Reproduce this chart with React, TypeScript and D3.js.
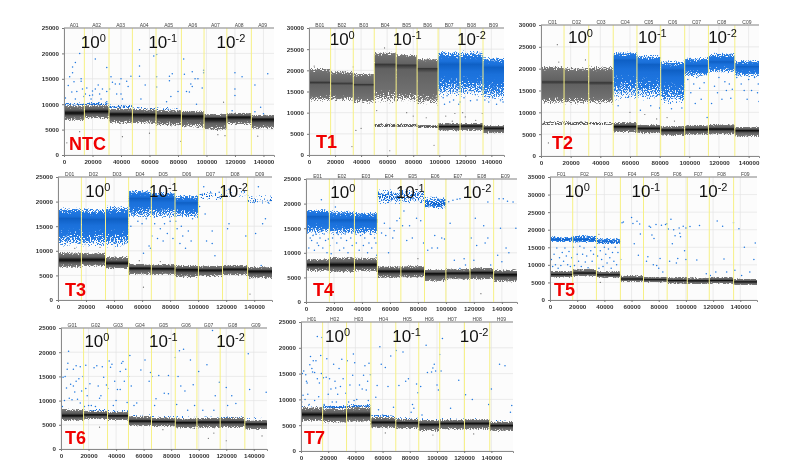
import { useEffect, useRef } from 'react'
import * as d3 from 'd3'

type Band = [number, number, number, number] | null
type Pt = [number, number]

const exponents = ['0', '-1', '-2']

// well boundaries (droplet event number)
const ntcEdges = [14300, 31600, 48000, 64600, 82400, 98300, 114300, 131500]
const t1Edges = [16600, 34000, 50100, 66900, 83000, 99100, 116000, 133600]
const t2Edges = [15550, 32200, 48700, 64700, 80700, 96900, 112900, 130700]
const t3Edges = [16700, 33900, 50400, 66600, 83500, 100200, 117400, 135300]
const t4Edges = [16700, 34600, 51000, 67800, 84700, 100000, 117200, 134100]
const t5Edges = [16700, 34150, 51800, 68800, 86200, 101000, 117200, 135100]
const t6Edges = [16400, 33800, 49000, 65700, 83000, 98700, 115600, 133500]
const t7Edges = [15900, 33500, 51400, 69700, 86600, 102000, 120200, 138800]

// negative cluster per well: low, centre, high, density
const ntcNeg: Band[] = [[6600, 8300, 10000, 1], [7000, 8600, 10000, 1], [6000, 8100, 9300, 1], [6000, 8000, 9200, 1], [5500, 7800, 9000, 1], [5200, 7700, 8800, 1], [4600, 7200, 8200, 1], [5800, 7500, 8400, 1], [5000, 7100, 8000, 1]]
const t1Neg: Band[] = [null, null, null, [6500, 7000, 7500, 0.6], [6500, 7000, 7500, 0.6], [6300, 6700, 7200, 0.6], [5500, 6800, 7600, 1], [5600, 6900, 7600, 1], [5000, 6400, 7100, 1]]
const t2Neg: Band[] = [[7000, 7500, 8000, 0.55], [7000, 7500, 8000, 0.55], [7000, 7400, 7900, 0.5], [5200, 6800, 7800, 1], [5000, 6400, 7300, 1], [4500, 6000, 7000, 1], [4700, 6100, 7200, 1], [4800, 6200, 7400, 1], [4300, 5900, 6800, 1]]
const t3Neg: Band[] = [[6450, 8150, 9850, 1], [6700, 8200, 9800, 1], [6200, 7500, 9000, 1], [5000, 6500, 7500, 1], [5000, 6400, 7400, 1], [4400, 6200, 7200, 1], [4600, 6100, 7100, 1], [4900, 6300, 7200, 1], [4200, 5900, 6900, 1]]
const t4Neg: Band[] = [[6100, 7600, 8900, 1], [5800, 7600, 9300, 1], [6100, 7600, 9100, 1], [4700, 6300, 7400, 1], [4800, 6300, 7500, 1], [4000, 5800, 6800, 1], [4400, 5900, 6900, 1], [4400, 6000, 7100, 1], [3900, 5600, 6700, 1]]
const t5Neg: Band[] = [[6300, 7250, 8400, 1], [6600, 7700, 9000, 1], [6200, 7200, 8300, 1], [5100, 6000, 7100, 1], [4900, 5800, 6700, 1], [4500, 5600, 6600, 1], [4400, 5500, 6500, 1], [4500, 5600, 6700, 1], [4100, 5200, 6200, 1]]
const t6Neg: Band[] = [[5700, 6900, 8400, 1], [6000, 7100, 8000, 1], [5800, 6900, 7800, 1], [4600, 5800, 6900, 1], [4500, 5700, 6600, 1], [4100, 5500, 6500, 1], [4200, 5600, 6600, 1], [4300, 5600, 6600, 1], [3900, 5200, 6100, 1]]
const t7Neg: Band[] = [[5600, 7100, 8700, 1], [5300, 6900, 8500, 1], [5500, 7000, 8800, 1], [4300, 5600, 6700, 1], [4200, 5500, 6300, 1], [3700, 5200, 6100, 1], [4000, 5400, 6200, 1], [4000, 5400, 6300, 1], [3700, 5000, 5800, 1]]

// positive cluster per well
const ntcPos: Band[] = [[9500, 9900, 10400, 0.5], [9600, 10000, 10500, 0.6], [9000, 9500, 10000, 0.5], [8800, 9200, 9600, 0.3], [8800, 9100, 9500, 0.3], null, null, null, null]
const t1Pos: Band[] = [[12500, 17200, 20800, 1], [12500, 17000, 20000, 1], [12000, 16700, 19500, 1], [12000, 21500, 24500, 1], [12000, 21300, 24000, 1], [11500, 20500, 23000, 1], [13500, 21500, 24800, 1], [13500, 21500, 24800, 1], [12500, 20800, 23300, 1]]
const t2Pos: Band[] = [[11700, 17000, 20900, 1], [11700, 17000, 20500, 1], [11700, 16800, 20800, 1], [12500, 22000, 24000, 1], [12500, 21000, 23300, 1], [11500, 19700, 22000, 1], [18000, 20700, 22800, 1], [18800, 21600, 23800, 1], [18000, 20500, 22100, 1]]
const t3Pos: Band[] = [[10500, 16600, 18900, 1], [10500, 16400, 18800, 1], [10500, 16500, 19300, 1], [16500, 20700, 22400, 1], [16500, 20700, 22000, 1], [16500, 19800, 21400, 1], [20000, 21000, 22300, 0.3], [20800, 21700, 22500, 0.18], [19500, 20400, 21400, 0.3]]
const t4Pos: Band[] = [[13500, 17400, 18900, 1], [13500, 16700, 18700, 1], [13500, 16700, 18400, 1], [19800, 21500, 23000, 0.5], [19800, 21500, 23000, 0.45], [18800, 20000, 21500, 0.65], null, null, null]
const t5Pos: Band[] = [[16400, 17200, 18200, 0.8], [16200, 17200, 18600, 0.8], [15800, 16500, 17800, 0.75], null, null, null, null, null, null]
const t6Pos: Band[] = [[7800, 8100, 8400, 0.25], [7700, 8000, 8300, 0.45], [7500, 7800, 8100, 0.35], [6500, 6900, 7200, 0.3], [6300, 6600, 6900, 0.25], [6300, 6600, 6900, 0.2], [6300, 6600, 6800, 0.25], [6300, 6600, 6800, 0.5], [6200, 6400, 6600, 0.2]]
const t7Pos: Band[] = [[8400, 8700, 9000, 0.25], [8100, 8500, 8900, 0.7], [8200, 8700, 9100, 0.6], [6500, 6800, 7100, 0.45], [6000, 6300, 6600, 0.25], [5900, 6200, 6400, 0.25], [5900, 6200, 6400, 0.3], [5900, 6200, 6400, 0.35], [5700, 5900, 6100, 0.2]]

// which wells show the positive cluster in blue (gray = not thresholded)
const t1PosBlue = [false, false, false, false, false, false, true, true, true]
const t2PosBlue = [false, false, false, true, true, true, true, true, true]
const allBlue = [true, true, true, true, true, true, true, true, true]

// stray droplets
const ntcBlue: Pt[] = [[1000, 11200], [3000, 13700], [4000, 15400], [5500, 12400], [6000, 16200], [6000, 17300], [7000, 14400], [8000, 18200], [8000, 11000], [9000, 12500], [11000, 20000], [12000, 15000], [12000, 14500], [13000, 13000], [14000, 11500], [15000, 12000], [16000, 13200], [18000, 11700], [19000, 11000], [20000, 11800], [20000, 12600], [22000, 18900], [22000, 13000], [24000, 13800], [25000, 12000], [26000, 11000], [27000, 13000], [30000, 17200], [30000, 12500], [30000, 10500], [32000, 13000], [33000, 15400], [34000, 14300], [36000, 14000], [37000, 12000], [39000, 14000], [40000, 15000], [40000, 12000], [41000, 11000], [44000, 14500], [45000, 13500], [47000, 15500], [53000, 20700], [53000, 17500], [53000, 15500], [54000, 11000], [57000, 13800], [63000, 19500], [65000, 19800], [65000, 15400], [65000, 13400], [72000, 10500], [74000, 15500], [74000, 14600], [76000, 16000], [75000, 11500], [80000, 12500], [84000, 18900], [84500, 15900], [86000, 12500], [88000, 12400], [89000, 14000], [90000, 16400], [90000, 13500], [92000, 15000], [93000, 10000], [94000, 15000], [97000, 13200], [98000, 16700], [98000, 16200], [120000, 16200], [120000, 11700], [120000, 13000], [125000, 15400], [134000, 13800], [138000, 9400], [143000, 16000], [118000, 8700], [134000, 8500], [140000, 8100]]
const ntcGray: Pt[] = [[11000, 4600], [2000, 2400], [41000, 3600], [60000, 4300], [82000, 2700], [112000, 10400], [113000, 3800], [108000, 4000], [136000, 3700]]
const t1Blue: Pt[] = [[101000, 15000], [103000, 13500], [104000, 12000], [106000, 14000], [108000, 12500], [111000, 13000], [115000, 12000], [116000, 12500], [119000, 13500], [124000, 12800], [129000, 13000], [135000, 13000], [138000, 12500], [141000, 13500], [144000, 12000], [147000, 13000], [149000, 12500]]
const t1Gray: Pt[] = [[33000, 2000], [36000, 5800], [40000, 6300], [62000, 1000], [96000, 2300], [4000, 21000], [34000, 20800], [58000, 25300], [105000, 9200], [112000, 9800], [118000, 10000], [120000, 9000], [133000, 9800], [128000, 8200], [110000, 8000], [75000, 10000], [52000, 10500], [80000, 9200], [90000, 8800]]
const t2Blue: Pt[] = [[52000, 11500], [67000, 10500], [74000, 11500], [80000, 11000], [88000, 10800], [95000, 11000], [99000, 17500], [101000, 14500], [103000, 16500], [104000, 12000], [105000, 18000], [107000, 15500], [108000, 13000], [110000, 16800], [112000, 8800], [115000, 12000], [117000, 16000], [119000, 14500], [120000, 18000], [122000, 13000], [124000, 17000], [125000, 15000], [127000, 16500], [128000, 13200], [129000, 15300], [132000, 18000], [135000, 16500], [137000, 15000], [139000, 13000], [140000, 17500], [142000, 15000], [144000, 18000], [146000, 14500], [146500, 16500], [147000, 12500]]
const t2Gray: Pt[] = [[11000, 25500], [5000, 3000], [60000, 10000], [85000, 8800], [70000, 9500], [78000, 8500], [90000, 8000], [30000, 22000], [12000, 21500]]
const t3Blue: Pt[] = [[52000, 15000], [57000, 16000], [60000, 15500], [61000, 9500], [63000, 16500], [65000, 11000], [66000, 10500], [67000, 13000], [69000, 15500], [71000, 12500], [73000, 14500], [75000, 12000], [76000, 15500], [78000, 13500], [80000, 16000], [82000, 12500], [84000, 16000], [85000, 14500], [87000, 11500], [88000, 15000], [89000, 13000], [91000, 10500], [93000, 14000], [95000, 12000], [96000, 16500], [105000, 17500], [106000, 12000], [110000, 11500], [110000, 14000], [112000, 9000], [121000, 14500], [122000, 15500], [134000, 13000], [141000, 13500], [146000, 15500], [148000, 16500], [145000, 7000], [101000, 19000], [103000, 21500], [104000, 23000], [109000, 21800], [115000, 21900], [122000, 22500], [133000, 22000], [143000, 23000], [140000, 19800], [150000, 19800]]
const t3Gray: Pt[] = [[61000, 2600], [137000, 1200], [12000, 10500], [30000, 10700], [58000, 8000], [73000, 7800]]
const t4Blue: Pt[] = [[1000, 14000], [2000, 11000], [3000, 13000], [4000, 12500], [5000, 13500], [6000, 10500], [7000, 13800], [8000, 12000], [9000, 11500], [10000, 13000], [11000, 20800], [12000, 11000], [13000, 13800], [14000, 12500], [15000, 10000], [16000, 12800], [17000, 11500], [18000, 9800], [19000, 13000], [21000, 19300], [22000, 12000], [23000, 13700], [24000, 10500], [25000, 13000], [27000, 11000], [28000, 13800], [29000, 12500], [30000, 10000], [32000, 13000], [33000, 11500], [35000, 13800], [36000, 12000], [38000, 10500], [39000, 13500], [41000, 11500], [42000, 13000], [44000, 10000], [45000, 12000], [46000, 13800], [47000, 11000], [49000, 13000], [50000, 12000], [50500, 9500], [54000, 14000], [56000, 16000], [57000, 13500], [59000, 10000], [60000, 15000], [62000, 13000], [63000, 14500], [65000, 16500], [67000, 17000], [69000, 15500], [70000, 18500], [72000, 12500], [74000, 15500], [76000, 13000], [79000, 17000], [82000, 16500], [84000, 12000], [87000, 10500], [90000, 11000], [92000, 13500], [94000, 11000], [97000, 13000], [99000, 12800], [103000, 16000], [108000, 20900], [110000, 21000], [106000, 8500], [110000, 6800], [113000, 8800], [114000, 7500], [118000, 13000], [120000, 8500], [121000, 17000], [122000, 11500], [127000, 15500], [128000, 12000], [130000, 13000], [132000, 7500], [137000, 9500], [138000, 21000], [140000, 8200], [139000, 15000], [141000, 21000], [143000, 11000], [144000, 20500], [145000, 10000], [148000, 20300], [150000, 15000], [102000, 20400], [105000, 20700], [130000, 20300]]
const t4Gray: Pt[] = [[125000, 1700], [80000, 8800], [50000, 9000]]
const t5Blue: Pt[] = [[1000, 11500], [2000, 9500], [3000, 13000], [4000, 10000], [5000, 14800], [6000, 9000], [7000, 12000], [8000, 9800], [9000, 13500], [10000, 11000], [11000, 14800], [12000, 12500], [13000, 10000], [14000, 13800], [15000, 9500], [16000, 12000], [17000, 15000], [18000, 9800], [20000, 13000], [21000, 11000], [22000, 15300], [23000, 9500], [24000, 13000], [25000, 14800], [26000, 10800], [27000, 12500], [28000, 9200], [30000, 14000], [31000, 11000], [32000, 13000], [33000, 15000], [35000, 12500], [36000, 9000], [37000, 14000], [38000, 11500], [39000, 9500], [40000, 15000], [41000, 13000], [42000, 10500], [43000, 14500], [44000, 12000], [45000, 9000], [46000, 13500], [47000, 11000], [48000, 15000], [49000, 10000], [50000, 13500], [52000, 11500], [53000, 22000], [54000, 22200], [60000, 23500], [61000, 21800], [62000, 16000], [64000, 22400], [65000, 12700], [66000, 21600], [66500, 18800], [71000, 11000], [72000, 12300], [73000, 21000], [74000, 20700], [75000, 18500], [76000, 10000], [76500, 17500], [78000, 21500], [78500, 9800], [80000, 9000], [81000, 11800], [82000, 21300], [83000, 8000], [85000, 21500], [86000, 21700], [87000, 20200], [88000, 11000], [89000, 23000], [90000, 16000], [91000, 20000], [92000, 18300], [93000, 10500], [94000, 11800], [95000, 20500], [95500, 19000], [96000, 18000], [98000, 21000], [99000, 14000], [100000, 11500], [100000, 20500], [103000, 20900], [108000, 11400], [110000, 21200], [115000, 7500], [118000, 7000], [122000, 8000], [123000, 22500], [128000, 11700], [127000, 21000], [130000, 8000], [135000, 22000], [136000, 8500], [139000, 20300], [141000, 7000], [143000, 15000], [147000, 8000], [150000, 11500], [151000, 16200]]
const t5Gray: Pt[] = [[37000, 5000], [36000, 18700]]
const t6Blue: Pt[] = [[1000, 8800], [1500, 14800], [2500, 10000], [3000, 15000], [4000, 12600], [4500, 16500], [5000, 17700], [5500, 20200], [6000, 10500], [7000, 13400], [8000, 10200], [9000, 13000], [9000, 16500], [10000, 11800], [11000, 17200], [11000, 14000], [12000, 10300], [13000, 14500], [14000, 17000], [14000, 9500], [15000, 12000], [16000, 15000], [17000, 8800], [18000, 17300], [18000, 12500], [19000, 11000], [20000, 9000], [21000, 13500], [22000, 9000], [24000, 16800], [25000, 8800], [26000, 17200], [27000, 13000], [28000, 10500], [29000, 11000], [30000, 17000], [31000, 14800], [33000, 13200], [34000, 12500], [35000, 18200], [36000, 16900], [37000, 17500], [38000, 9000], [39000, 14000], [40000, 10000], [41000, 12300], [43000, 16000], [43000, 12300], [44000, 17700], [45000, 18100], [46000, 14000], [47000, 16500], [48000, 9600], [49000, 15000], [50000, 19300], [51000, 13000], [53000, 9000], [55000, 9500], [58000, 16300], [61000, 18400], [64000, 14000], [65000, 15800], [66000, 15000], [68000, 9000], [69000, 10400], [71000, 15200], [75000, 11500], [78000, 11400], [78000, 15200], [83000, 18900], [84000, 9200], [85000, 15000], [86000, 20300], [87000, 13000], [89000, 20600], [90000, 12000], [92000, 8000], [94000, 18400], [96000, 13300], [97000, 9000], [100000, 16000], [103000, 8000], [106000, 17400], [110000, 24500], [111000, 8000], [112000, 11000], [115000, 13800], [120000, 12700], [121000, 9000], [124000, 11000], [127000, 9400], [136000, 19700], [137000, 12300], [149000, 11700]]
const t6Gray: Pt[] = [[107000, 2200], [120000, 1700], [146000, 2700], [28000, 4500], [111000, 3300], [74000, 4000]]
const t7Blue: Pt[] = [[500, 9500], [1000, 15000], [1500, 10800], [2000, 15500], [3000, 10000], [3500, 14800], [4000, 13500], [4500, 13200], [5000, 11000], [6000, 9000], [6500, 16700], [7000, 18300], [8000, 16000], [8500, 15300], [9000, 17500], [10000, 15200], [10000, 9800], [11000, 17500], [12000, 22200], [12000, 14000], [13000, 10500], [13500, 13200], [14500, 18500], [15000, 15000], [15500, 22000], [16500, 14200], [17000, 9000], [18500, 14300], [19000, 17900], [20000, 11000], [21000, 14000], [22000, 12000], [23000, 9500], [24000, 16800], [25000, 13500], [25500, 12200], [26000, 9500], [27000, 11000], [28000, 16000], [29000, 12500], [30000, 17800], [31000, 14000], [33000, 11200], [34000, 17500], [35000, 9500], [36000, 12800], [38000, 14700], [38500, 18800], [39000, 9800], [39500, 17100], [41000, 10000], [43000, 12800], [45000, 12000], [46000, 14700], [47000, 16500], [48000, 11800], [49000, 13500], [49500, 9800], [50000, 17000], [51000, 14800], [55000, 10400], [56000, 12700], [57000, 8000], [58000, 20200], [59000, 16800], [60000, 7000], [62000, 16200], [64000, 12500], [66000, 18400], [68000, 8500], [70000, 19500], [72000, 12700], [75000, 19200], [77000, 13500], [79000, 14000], [81000, 7500], [82000, 9000], [83000, 8300], [85000, 13000], [86000, 11300], [88000, 12500], [89000, 7000], [92000, 20500], [93000, 15200], [96000, 15300], [97000, 16100], [98000, 16800], [99000, 15500], [100000, 12800], [101000, 11800], [102000, 18700], [103000, 15500], [104000, 21800], [110000, 8300], [116000, 13700], [121000, 10900], [126000, 10000], [138000, 9000], [140000, 12000], [146000, 16800], [150000, 16500], [154000, 7500], [155000, 8800]]
const t7Gray: Pt[] = [[127000, 3300], [97000, 3100], [62000, 3500]]

const yTicks25 = [0, 5000, 10000, 15000, 20000, 25000]
const yTicks30 = [...yTicks25, 30000]
const yTicks35 = [...yTicks30, 35000]
const xTicks = [0, 20000, 40000, 60000, 80000, 100000, 120000, 140000]

// placement on the page, kept apart from the values above
const panels = [
  { name: 'NTC', row: 'A', left: 64, right: 274, top: 28, bottom: 155, xMax: 147400, yMax: 25000, yTicks: yTicks25, edges: ntcEdges, neg: ntcNeg, pos: ntcPos, posBlue: allBlue, blue: ntcBlue, gray: ntcGray, titleX: [20600, 69300, 117200], titleDy: 20, nameX: 69, nameY: 150 },
  { name: 'T1', row: 'B', left: 309, right: 504, top: 28, bottom: 155, xMax: 149700, yMax: 30000, yTicks: yTicks30, edges: t1Edges, neg: t1Neg, pos: t1Pos, posBlue: t1PosBlue, blue: t1Blue, gray: t1Gray, titleX: [25500, 75400, 124700], titleDy: 17, nameX: 316, nameY: 148 },
  { name: 'T2', row: 'C', left: 541, right: 759, top: 25, bottom: 156, xMax: 147000, yMax: 30000, yTicks: yTicks30, edges: t2Edges, neg: t2Neg, pos: t2Pos, posBlue: t2PosBlue, blue: t2Blue, gray: t2Gray, titleX: [26600, 75100, 122400], titleDy: 18, nameX: 552, nameY: 149 },
  { name: 'T3', row: 'D', left: 58, right: 272, top: 177, bottom: 300, xMax: 152700, yMax: 25000, yTicks: yTicks25, edges: t3Edges, neg: t3Neg, pos: t3Pos, posBlue: allBlue, blue: t3Blue, gray: t3Gray, titleX: [28400, 75200, 125300], titleDy: 20, nameX: 65, nameY: 296 },
  { name: 'T4', row: 'E', left: 306, right: 517, top: 179, bottom: 302, xMax: 150800, yMax: 25000, yTicks: yTicks25, edges: t4Edges, neg: t4Neg, pos: t4Pos, posBlue: allBlue, blue: t4Blue, gray: t4Gray, titleX: [26300, 74500, 122200], titleDy: 19, nameX: 313, nameY: 296 },
  { name: 'T5', row: 'F', left: 550, right: 757, top: 177, bottom: 300, xMax: 152300, yMax: 35000, yTicks: yTicks35, edges: t5Edges, neg: t5Neg, pos: t5Pos, posBlue: allBlue, blue: t5Blue, gray: t5Gray, titleX: [20100, 70500, 120000], titleDy: 20, nameX: 554, nameY: 296 },
  { name: 'T6', row: 'G', left: 61, right: 267, top: 328, bottom: 449, xMax: 149600, yMax: 25000, yTicks: yTicks25, edges: t6Edges, neg: t6Neg, pos: t6Pos, posBlue: allBlue, blue: t6Blue, gray: t6Gray, titleX: [26100, 74300, 123100], titleDy: 19, nameX: 65, nameY: 444 },
  { name: 'T7', row: 'H', left: 301, right: 513, top: 322, bottom: 451, xMax: 155900, yMax: 25000, yTicks: yTicks25, edges: t7Edges, neg: t7Neg, pos: t7Pos, posBlue: allBlue, blue: t7Blue, gray: t7Gray, titleX: [26900, 77600, 127300], titleDy: 20, nameX: 304, nameY: 444 },
]

const fontFamily = '"Liberation Sans", Arial, sans-serif'

function BandRects({ band, x0, x1, y, kind }: any) {
  if (!band) return null
  const [low, mid, high, density] = band
  return (
    <g opacity={density}>
      <rect x={x0} width={x1 - x0} y={y(high)} height={y(mid) - y(high) + 0.5} fill={`url(#${kind}-up)`} />
      <rect x={x0} width={x1 - x0} y={y(mid)} height={y(low) - y(mid)} fill={`url(#${kind}-down)`} />
    </g>
  )
}

function Panel({ panel }: any) {
  const xAxisRef = useRef<SVGGElement>(null)
  const yAxisRef = useRef<SVGGElement>(null)

  const x = d3.scaleLinear().domain([0, panel.xMax]).range([panel.left, panel.right])
  const y = d3.scaleLinear().domain([0, panel.yMax]).range([panel.bottom, panel.top])
  const wellEdges = [0, ...panel.edges, panel.xMax]
  const wells = d3.pairs(wellEdges)

  useEffect(() => {
    const style = (axis: any) => {
      axis.select('.domain').attr('stroke', '#8a8a8a').attr('stroke-width', 1)
      axis.selectAll('.tick line').attr('stroke', '#777')
      axis
        .selectAll('text')
        .attr('fill', '#333')
        .attr('font-size', 6.2)
        .attr('font-weight', 700)
        .attr('font-family', fontFamily)
    }
    d3.select(xAxisRef.current)
      .call(d3.axisBottom(x).tickValues(xTicks).tickFormat(d3.format('d') as any).tickSize(2).tickPadding(3) as any)
      .call(style)
    d3.select(yAxisRef.current)
      .call(d3.axisLeft(y).tickValues(panel.yTicks).tickFormat(d3.format('d') as any).tickSize(2).tickPadding(3) as any)
      .call(style)
  }, [])

  const clipId = `clip-${panel.row}`
  const plotW = panel.right - panel.left
  const plotH = panel.bottom - panel.top

  return (
    <g>
      <defs>
        <clipPath id={clipId}>
          <rect x={panel.left} y={panel.top} width={plotW} height={plotH} />
        </clipPath>
      </defs>
      <rect x={panel.left} y={panel.top} width={plotW} height={plotH} fill="#fcfcfc" />
      {panel.yTicks.map((t: number) => (
        <line key={t} x1={panel.left} x2={panel.right} y1={y(t)} y2={y(t)} stroke="#e4e4e4" strokeWidth={0.7} />
      ))}
      {xTicks.map((t) => (
        <line key={t} x1={x(t)} x2={x(t)} y1={panel.top} y2={panel.bottom} stroke="#e4e4e4" strokeWidth={0.7} />
      ))}
      <g clipPath={`url(#${clipId})`}>
        <g filter="url(#droplets)">
          {wells.map(([a, b]: number[], i: number) => (
            <BandRects key={`p${i}`} band={panel.pos[i]} x0={x(a)} x1={x(b)} y={y} kind={panel.posBlue[i] ? 'blue' : 'gray'} />
          ))}
        </g>
        {panel.gray.map(([a, b]: Pt, i: number) => (
          <circle key={`g${i}`} cx={x(a)} cy={y(b)} r={0.6} fill="#666" />
        ))}
        {panel.blue.map(([a, b]: Pt, i: number) => (
          <circle key={`b${i}`} cx={x(a)} cy={y(b)} r={0.75} fill="#1f78e0" />
        ))}
        <g filter="url(#droplets)">
          {wells.map(([a, b]: number[], i: number) => (
            <BandRects key={`n${i}`} band={panel.neg[i]} x0={x(a)} x1={x(b)} y={y} kind={panel.neg[i] && panel.neg[i][3] < 1 ? 'gray' : 'neg'} />
          ))}
        </g>
      </g>
      {panel.edges.map((e: number) => (
        <line key={e} x1={x(e)} x2={x(e)} y1={panel.top} y2={panel.bottom} stroke="#f6f086" strokeWidth={1} />
      ))}
      <line x1={panel.left} x2={panel.right} y1={panel.top} y2={panel.top} stroke="#8a8a8a" />
      <g ref={xAxisRef} transform={`translate(0,${panel.bottom})`} />
      <g ref={yAxisRef} transform={`translate(${panel.left},0)`} />
      {wells.map(([a, b]: number[], i: number) => (
        <text key={i} x={x((a + b) / 2)} y={panel.top - 1.5} textAnchor="middle" fontSize={5} fill="#444" fontFamily={fontFamily}>
          {`${panel.row}0${i + 1}`}
        </text>
      ))}
      {exponents.map((exp, i) => (
        <text key={exp} x={x(panel.titleX[i])} y={panel.top + panel.titleDy} textAnchor="middle" fontSize={17} fill="#111" fontFamily={fontFamily}>
          10<tspan dy={-6} fontSize={11}>{exp}</tspan>
        </text>
      ))}
      <text x={panel.nameX} y={panel.nameY} fontSize={18} fontWeight={700} fill="#f00000" fontFamily={fontFamily}>
        {panel.name}
      </text>
    </g>
  )
}

function Gradient({ id, stops, flip }: any) {
  return (
    <linearGradient id={id} x1="0" y1={flip ? 1 : 0} x2="0" y2={flip ? 0 : 1}>
      {stops.map(([offset, color, opacity]: any) => (
        <stop key={offset} offset={offset} stopColor={color} stopOpacity={opacity} />
      ))}
    </linearGradient>
  )
}

const negStops = [[0, '#0a0a0a', 1], [0.16, '#262626', 1], [0.36, '#5c5c5c', 1], [0.62, '#6e6e6e', 0.8], [0.85, '#7a7a7a', 0.42], [1, '#808080', 0]]
const grayStops = [[0, '#333', 1], [0.12, '#626262', 1], [0.6, '#6e6e6e', 1], [0.82, '#777', 0.55], [1, '#808080', 0]]
const blueStops = [[0, '#0e5fc4', 1], [0.22, '#1a70da', 1], [0.5, '#1f76e0', 0.8], [0.82, '#2b80e4', 0.4], [1, '#3b8ae6', 0]]

export default function App() {
  return (
    <svg width={805} height={467} style={{ position: 'absolute', left: 0, top: 0, background: '#fff', filter: 'blur(0.35px)' }}>
      <defs>
        <Gradient id="neg-up" stops={negStops} flip />
        <Gradient id="neg-down" stops={negStops} />
        <Gradient id="gray-up" stops={grayStops} flip />
        <Gradient id="gray-down" stops={grayStops} />
        <Gradient id="blue-up" stops={blueStops} flip />
        <Gradient id="blue-down" stops={blueStops} />
        {/* grain so the shaded bands read as droplet clouds: fainter shading keeps fewer pixels */}
        <filter id="droplets" x="0" y="0" width="805" height="467" filterUnits="userSpaceOnUse" colorInterpolationFilters="sRGB">
          <feTurbulence type="fractalNoise" baseFrequency={0.85} numOctaves={2} seed={4} result="noise" />
          <feColorMatrix in="noise" type="matrix" values="0 0 0 0 0  0 0 0 0 0  0 0 0 0 0  2.4 0 0 0 -0.7" result="grain" />
          <feComposite in="SourceAlpha" in2="grain" operator="arithmetic" k1={0} k2={1.3} k3={1} k4={-1} result="raw" />
          <feComponentTransfer in="raw" result="mask">
            <feFuncA type="linear" slope={5} intercept={0} />
          </feComponentTransfer>
          <feComponentTransfer in="SourceGraphic" result="solid">
            <feFuncA type="linear" slope={30} intercept={0} />
          </feComponentTransfer>
          <feComposite in="solid" in2="mask" operator="in" />
        </filter>
      </defs>
      {panels.map((p) => (
        <Panel key={p.name} panel={p} />
      ))}
    </svg>
  )
}
